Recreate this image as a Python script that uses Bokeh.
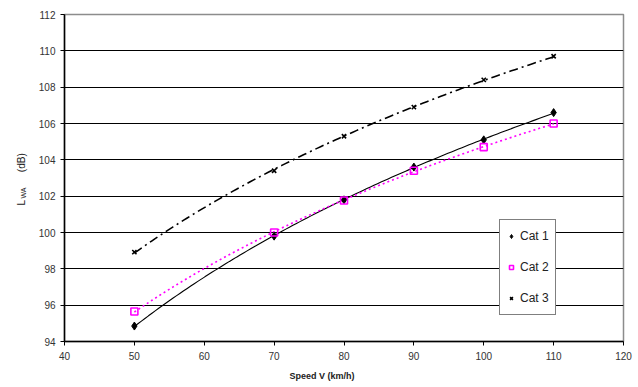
import numpy as np
from bokeh.plotting import figure
from bokeh.models import FixedTicker, Legend, LegendItem, Range1d, Title
from bokeh.embed import file_html
from bokeh.resources import INLINE

speed = [50, 70, 80, 90, 100, 110]
cat1 = [94.85, 99.8, 101.8, 103.6, 105.1, 106.6]
cat2 = [95.65, 100.0, 101.76, 103.4, 104.7, 106.0]
cat3 = [98.92, 103.4, 105.3, 106.9, 108.4, 109.7]
x_ticks = [40, 50, 60, 70, 80, 90, 100, 110, 120]
y_ticks = [94, 96, 98, 100, 102, 104, 106, 108, 110, 112]

FONT = "Liberation Sans"
NB = "\u00a0"

p = figure(width=638, height=387, output_backend="svg", toolbar_location=None,
           x_range=Range1d(40, 120), y_range=Range1d(94, 112),
           min_border_left=64, min_border_right=15, min_border_top=14, min_border_bottom=46)
p.background_fill_color = "white"
p.border_fill_color = "white"
p.outline_line_color = "#8c8c8c"
p.outline_line_width = 1.5

p.xgrid.visible = False
p.ygrid.ticker = FixedTicker(ticks=y_ticks[1:-1])
p.ygrid.grid_line_color = "black"
p.ygrid.grid_line_width = 1.2

for ax, ticks in ((p.xaxis[0], x_ticks), (p.yaxis[0], y_ticks)):
    ax.ticker = FixedTicker(ticks=ticks)
    ax.axis_line_color = "black"
    ax.axis_line_width = 1.5
    ax.major_tick_line_color = "black"
    ax.major_tick_out = 4
    ax.major_tick_in = 0
    ax.minor_tick_line_color = None
    ax.major_label_text_font = FONT
    ax.major_label_text_font_size = "10px"
    ax.major_label_text_color = "#333333"
p.xaxis.major_label_standoff = 6
p.yaxis.major_label_standoff = 5

# log trendlines fitted to each series
xs = np.linspace(speed[0], speed[-1], 120)
def trend(vals):
    a, b = np.polyfit(np.log(speed), vals, 1)
    return a * np.log(xs) + b

p.line(xs, trend(cat1), line_color="black", line_width=1.1)
p.line(xs, trend(cat2), line_color="#ff00ff", line_width=1.6, line_dash="2 3")
p.line(xs, trend(cat3), line_color="black", line_width=1.6, line_dash="9 4 2 4")

r1 = p.scatter(speed, cat1, marker="diamond", size=8, fill_color="black", line_color="black")
r2 = p.scatter(speed, cat2, marker="square", size=7, fill_color=None, line_color="#ff00ff", line_width=1.6)
r3 = p.scatter(speed, cat3, marker="x", size=6, line_color="black", line_width=1.6)

legend = Legend(items=[LegendItem(label="Cat 1", renderers=[r1]),
                       LegendItem(label="Cat 2", renderers=[r2]),
                       LegendItem(label="Cat 3", renderers=[r3])],
                location=(435, 26), orientation="vertical",
                label_text_font=FONT, label_text_font_size="12px", label_text_color="#222222",
                glyph_width=10, glyph_height=20, label_height=20, label_standoff=4,
                spacing=11, padding=6, margin=0,
                border_line_color="black", border_line_width=1.2,
                background_fill_color="white", background_fill_alpha=1)
p.add_layout(legend, "center")

# axis titles
p.add_layout(Title(text="Speed V (km/h)", align="left", offset=225, standoff=12,
                   text_font=FONT, text_font_size="9px", text_font_style="bold",
                   text_color="#222222"), "below")
p.add_layout(Title(text="WA", align="left", offset=143, standoff=18,
                   text_font=FONT, text_font_size="7px", text_font_style="normal",
                   text_color="#222222"), "left")
p.add_layout(Title(text="L" + NB * 10 + "(dB)", align="left", offset=136, standoff=-36,
                   text_font=FONT, text_font_size="10px", text_font_style="normal",
                   text_color="#222222"), "left")

open("out.html", "w").write(file_html(p, INLINE))
